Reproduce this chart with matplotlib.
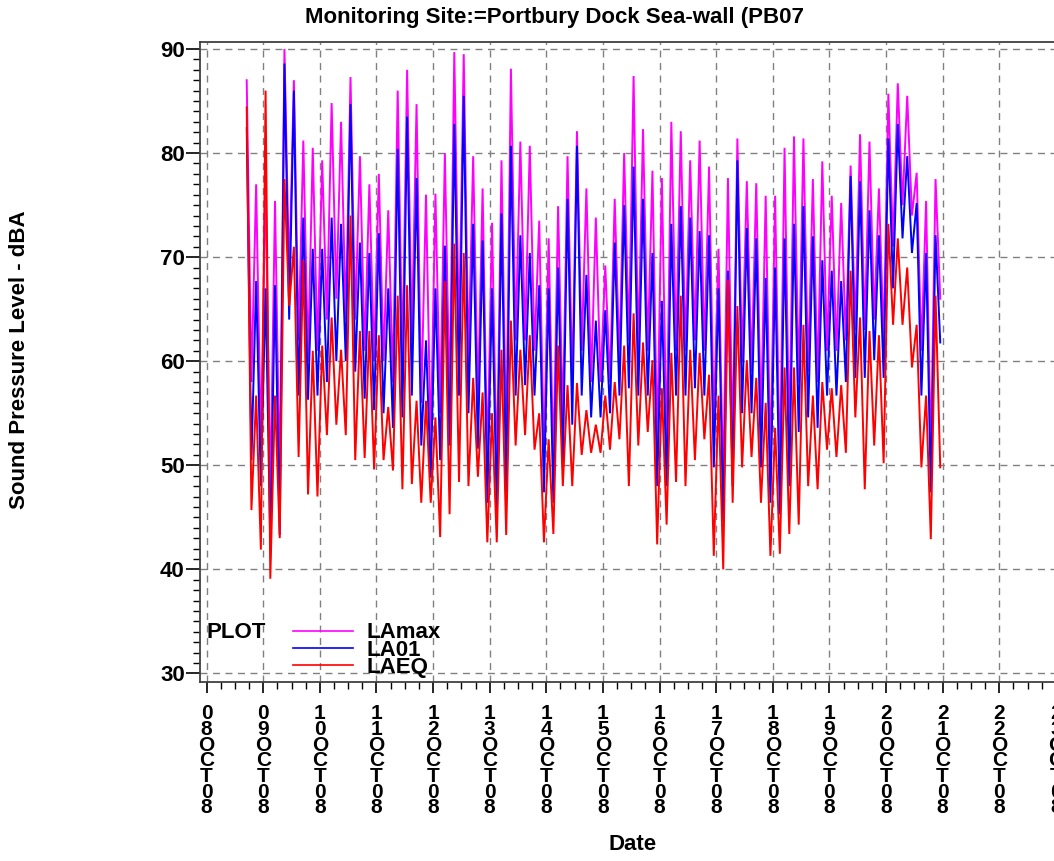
import matplotlib
matplotlib.use("Agg")
import matplotlib.pyplot as plt
import matplotlib.dates as mdates
from matplotlib.lines import Line2D
from matplotlib.transforms import Bbox, TransformedBbox
import numpy as np
import pandas as pd

plt.rcParams['font.family'] = ['Liberation Sans', 'DejaVu Sans']
plt.rcParams['font.weight'] = 'bold'

# 4-hour blocks from 08OCT08 16:00 to 21OCT08 00:00, high / low read per block
lamax_hi = [87, 77, 77.5, 75.4, 90, 87, 81.2, 80.5, 79.3, 84.8, 83, 87.3, 79.7, 77, 78, 74.5,
            86, 88, 84.7, 76, 76.1, 80, 89.7, 89.5, 79.7, 76.6, 73.3, 79.3, 88.1, 81.1, 80.7, 73.5,
            71.8, 74.9, 79.7, 82.1, 76.6, 73.8, 69.2, 75.6, 80, 87.4, 82.3, 78.3, 77.6, 83, 82.1, 79.3,
            81.2, 78.7, 70.8, 77.6, 81.4, 77.3, 77.1, 75.9, 75.9, 80.5, 81.6, 81.4, 77.5, 79.2, 75.9, 75.2,
            78.8, 81.8, 81.1, 76.6, 85.7, 86.7, 85.5, 78.1, 75.4, 77.5]
lamax_lo = [58, 52, 47, 48, 68, 62, 60, 61, 64, 66, 64, 64, 61, 60, 60, 58,
            60, 62, 56, 52, 55, 56, 62, 60, 56, 50, 49, 52, 62, 62, 61, 51,
            50, 54, 58, 61, 58, 58, 58, 60, 62, 61, 61, 52, 52, 61, 61, 62,
            61, 54, 48, 52, 60, 59, 54, 50, 49, 52, 58, 59, 58, 61, 61, 62,
            63, 63, 64, 62, 71, 75, 74, 61, 51, 66]
la01_hi = [82.4, 67.7, 67, 67.3, 88.6, 86, 73.8, 70.8, 70.8, 73.8, 73.2, 84.7, 71.4, 70.4, 72.3, 67,
           80.4, 83.5, 77.6, 62, 67, 71.1, 82.8, 85.5, 73.2, 71.6, 67, 74.2, 80.7, 72.1, 70.4, 67.3,
           67, 69, 75.6, 80.7, 68.3, 63.9, 64.9, 71.4, 75, 78.7, 75.6, 70.4, 65.8, 73.2, 74.9, 73.8,
           72.5, 72.1, 67, 68.7, 79.3, 72.8, 71.8, 68, 69, 71.8, 73.2, 74.9, 72, 69.7, 68.7, 67.7,
           77.8, 77.3, 74.5, 72.1, 81.4, 82.8, 79.7, 75.2, 70.4, 72.1]
la01_lo = [50.5, 48, 42.2, 43.3, 64, 56.7, 56.3, 56.7, 58, 60, 60, 59, 56.4, 55.3, 55, 53.6,
           54.6, 56.7, 51.9, 48.8, 50.5, 51.9, 56.7, 55, 51.6, 46.4, 45.7, 47.4, 56.7, 57.7, 56.7, 47.4,
           46.4, 49.8, 53.9, 56.7, 54.6, 54.6, 55, 56.7, 57.4, 56.7, 56.7, 48, 48, 56.7, 56.7, 57.4,
           56.7, 49.8, 44.6, 48, 55, 55, 49.8, 46.4, 45.3, 48, 53.2, 54.6, 53.6, 56.7, 56.7, 58,
           58.4, 58.4, 60.1, 58.4, 67, 71.8, 70.4, 56.7, 47.4, 61.8]
laeq_hi = [84.4, 56.7, 86, 56.7, 77.5, 71, 69.7, 61, 61.5, 64.2, 61.1, 74, 62.9, 62.9, 62.5, 55.6,
           66.3, 67.3, 56.2, 56.2, 54.6, 67.7, 71.3, 70.4, 58.4, 57, 55, 61.1, 63.9, 61.1, 62.5, 55,
           52.5, 61.5, 57.7, 57.9, 55.3, 53.9, 56.7, 58, 61.5, 64.6, 61.8, 60.1, 57.4, 60.8, 66.3, 61.1,
           60.8, 58.7, 56.7, 67.8, 65.3, 60.1, 58.4, 56, 53.6, 59.4, 59.4, 63.5, 56.7, 58, 57.4, 57.7,
           68.7, 64.2, 62.9, 62.5, 73.2, 71.8, 69, 63.5, 56.7, 66.3]
laeq_lo = [45.7, 41.9, 39.1, 43, 65.3, 50.8, 47.2, 47, 52.9, 53.9, 52.9, 50.5, 50.7, 49.6, 50.5, 49.5,
           47.7, 48.2, 46.4, 46.4, 43.1, 45.3, 48.4, 48, 48.9, 42.6, 42.6, 43.3, 51.9, 52.9, 51.5, 42.6,
           43.4, 48, 48, 51, 51.2, 51.2, 51.5, 52.5, 48, 51.9, 53.2, 42.4, 44.3, 48.4, 48, 50.5,
           52.5, 41.3, 40, 46.4, 49.8, 50.8, 46.4, 41.3, 41.5, 43.4, 44.3, 48, 47.7, 51.5, 50.8, 51.2,
           54.6, 47.7, 51.9, 50.2, 63.5, 63.5, 59.4, 49.8, 42.9, 49.8]

series = [("LAmax", lamax_hi, lamax_lo, "#ff00ff"),
          ("LA01", la01_hi, la01_lo, "#0000ff"),
          ("LAEQ", laeq_hi, laeq_lo, "#ff0000")]

day_labels = ["08OCT08", "09OCT08", "10OCT08", "11OCT08", "12OCT08", "13OCT08", "14OCT08", "15OCT08",
              "16OCT08", "17OCT08", "18OCT08", "19OCT08", "20OCT08", "21OCT08", "22OCT08", "23OCT08"]

W, H = 1054, 861
fig = plt.figure(figsize=(W / 100, H / 100), dpi=100)
ax = fig.add_axes([200 / W, 1 - 682 / H, 870 / W, 640 / H])

times = pd.date_range("2008-10-08 17:00", periods=2 * len(lamax_hi), freq="2h")
for name, hi, lo, col in series:
    vals = np.column_stack([hi, lo]).ravel()
    ax.plot(times, vals, color=col, lw=1.4, solid_joinstyle="miter")

day0 = pd.Timestamp("2008-10-08")
ax.set_xlim(day0 - pd.Timedelta(hours=2.8), day0 + pd.Timedelta(hours=15.25 * 24))
ax.set_ylim(29.18, 90.67)

ticks = pd.date_range("2008-10-08", periods=len(day_labels), freq="D")
ax.set_xticks(ticks)
ax.set_xticklabels(["\n".join(s) for s in day_labels], fontsize=15, fontweight="bold",
                   linespacing=0.78, va="top")
ax.xaxis.set_minor_locator(mdates.HourLocator(byhour=[6, 12, 18]))
ax.set_yticks(np.arange(30, 91, 10))
ax.set_yticks(np.arange(30, 91, 1), minor=True)
ax.tick_params(axis="y", which="major", labelsize=16, length=10, width=1.2, pad=1)
ax.tick_params(axis="y", which="minor", length=5, width=1)
ax.tick_params(axis="x", which="major", length=8, width=1.2, pad=8)
ax.tick_params(axis="x", which="minor", length=5, width=1)
for lab in ax.get_yticklabels():
    lab.set_fontweight("bold")

ax.grid(True, which="major", color="#808080", linestyle=(0, (5, 4)), lw=1)
ax.set_axisbelow(True)
for side in ["left", "bottom", "top"]:
    ax.spines[side].set_color("#404040")
    ax.spines[side].set_linewidth(1.3)
ax.spines["right"].set_visible(False)

t = fig.text(305 / W, 1 - 18 / H, "Monitoring Site:=Portbury Dock Sea-wall (PB07)",
             fontsize=16, fontweight="bold", ha="left", va="center")
t.set_clip_on(True)
t.set_clip_box(TransformedBbox(Bbox([[0, 0], [803 / W, 1]]), fig.transFigure))

fig.text(20 / W, 1 - 360 / H, "Sound Pressure Level - dBA", rotation=90, fontsize=16,
         fontweight="bold", ha="center", va="center")
fig.text(633 / W, 1 - 845 / H, "Date", fontsize=16, fontweight="bold", ha="center", va="center")

# legend block
fig.text(207 / W, 1 - 633 / H, "PLOT", fontsize=16, fontweight="bold", ha="left", va="center")
for i, (name, hi, lo, col) in enumerate(series):
    y = 1 - (631 + 17 * i) / H
    fig.add_artist(Line2D([293 / W, 353 / W], [y, y], color=col, lw=1.2,
                          transform=fig.transFigure))
    fig.text(367 / W, y - 2 / H, name, fontsize=16, fontweight="bold", ha="left", va="center")

fig.savefig("out.png", dpi=100)
